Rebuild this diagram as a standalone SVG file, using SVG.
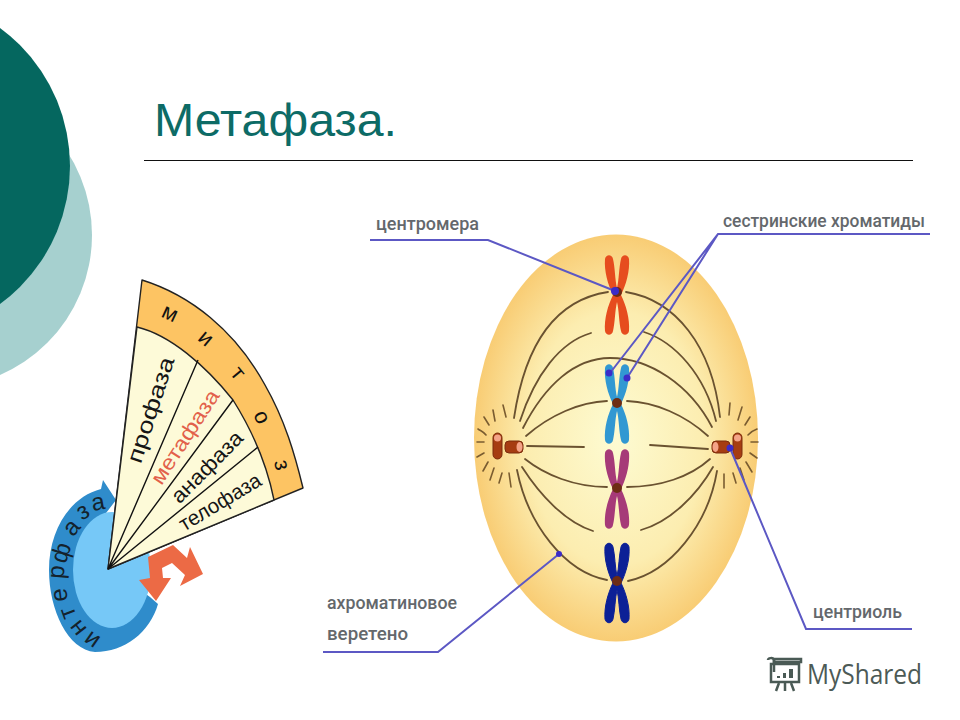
<svg xmlns="http://www.w3.org/2000/svg" width="960" height="720" viewBox="0 0 960 720">
<style>
text{font-family:"Liberation Sans",Arial,sans-serif}
.lab{font-family:Roboto,"Liberation Sans",sans-serif;font-size:19px;font-weight:500;fill:#64686c}
.ph{font-size:21px;fill:#151515;text-anchor:middle}
.mit{font-size:22px;fill:#111;text-anchor:middle}
.int{font-size:24px;fill:#14222c;text-anchor:middle}
.sp{fill:none;stroke:#6a5230;stroke-width:1.8;stroke-linecap:round}
.ray{fill:none;stroke:#7a5c30;stroke-width:1.6;stroke-linecap:round}
.lead{fill:none;stroke:#5c58c4;stroke-width:2}
.dot{fill:#3c2cc8}
.cen{fill:#6d2c14}
.cyl{fill:#a63d12;stroke:#7a2c0c;stroke-width:1}
.end{fill:#f4a488}
.div{stroke:#111;stroke-width:1.4;fill:none}
</style>
<defs>
<radialGradient id="cell" cx="50%" cy="50%" r="52%">
<stop offset="0" stop-color="#fdfbd2"/><stop offset=".6" stop-color="#fcedb0"/><stop offset="1" stop-color="#f8c96e"/>
</radialGradient>
<path id="x" d="M0,-7C2,-15 2,-28 4,-36C5,-41 11,-41 12,-36C13,-24 9,-10 4,0C9,10 13,24 12,36C11,41 5,41 4,36C2,28 2,15 0,7C-2,15 -2,28 -4,36C-5,41 -11,41 -12,36C-13,24 -9,10 -4,0C-9,-10 -13,-24 -12,-36C-11,-41 -5,-41 -4,-36C-2,-28 -2,-15 0,-7Z"/>
</defs>
<rect width="960" height="720" fill="#fff"/>
<g id="decor">
<circle cx="-60.500" cy="235" r="152.500" fill="#a6d0cf"/>
<circle cx="-101" cy="166" r="171" fill="#05675f"/>
</g>
<g id="title">
<text x="154" y="136" font-size="46" fill="#0d6b66" textLength="243" lengthAdjust="spacingAndGlyphs">Метафаза.</text>
<line x1="144" y1="160.500" x2="913" y2="160.500" stroke="#111" stroke-width="1"/>
</g>
<g id="interphase">
<path d="M103,480L116,500L103,517L112,570L150,597L158,604C150,632 125,652 95,652C68,650 49,610 49,570C49,530 70,497 101,489Z" fill="#2f8ccb"/>
<ellipse cx="112" cy="570" rx="39" ry="58" fill="#76c8f7"/>
<text class="int" transform="translate(92,640) rotate(-145) translate(0,7)">и</text>
<text class="int" transform="translate(78,628) rotate(-128) translate(0,7)">н</text>
<text class="int" transform="translate(68,613) rotate(-110) translate(0,7)">т</text>
<text class="int" transform="translate(60,595) rotate(-97) translate(0,7)">е</text>
<text class="int" transform="translate(57,572) rotate(-85) translate(0,7)">р</text>
<text class="int" transform="translate(62,553) rotate(-72) translate(0,7)">ф</text>
<text class="int" transform="translate(72,528) rotate(-50) translate(0,7)">а</text>
<text class="int" transform="translate(83,512) rotate(-30) translate(0,7)">з</text>
<text class="int" transform="translate(98,503) rotate(-10) translate(0,7)">а</text>
</g>
<g id="arrows">
<polygon points="148,557 173,545 187,558 190,547 203,574 180,586 185,575 172,563 162,568 163,578 171,578 156,601 139,580 150,578" fill="#ec6a45"/>
</g>
<g id="fan">
<path d="M108,569L142,280C190,295 235,330 265,385C285,420 295,455 303,488Z" fill="#fdc463" stroke="#222" stroke-width="1.4" stroke-linejoin="round"/>
<path d="M108,569L137,327C170,335 205,365 233,400C255,435 268,470 274,500Z" fill="#fdfad8" stroke="#222" stroke-width="1.4" stroke-linejoin="round"/>
<path class="div" d="M108,569L198,360M108,569L233,400M108,569L258,447"/>
<text class="mit" transform="translate(170,313) rotate(25) translate(0,7)">м</text>
<text class="mit" transform="translate(206,338) rotate(40) translate(0,7)">и</text>
<text class="mit" transform="translate(238,373) rotate(50) translate(0,7)">т</text>
<text class="mit" transform="translate(262,417) rotate(65) translate(0,7)">о</text>
<text class="mit" transform="translate(282,465) rotate(78) translate(0,7)">з</text>
<text class="ph" style="font-size:22px" transform="translate(151,410) rotate(-72) translate(0,7)" textLength="110" lengthAdjust="spacingAndGlyphs">профаза</text>
<text class="ph" style="fill:#e2604a" transform="translate(185,437) rotate(-57) translate(0,7)" textLength="108" lengthAdjust="spacingAndGlyphs">метафаза</text>
<text class="ph" transform="translate(207,467) rotate(-45) translate(0,7)" textLength="92" lengthAdjust="spacingAndGlyphs">анафаза</text>
<text class="ph" transform="translate(220,502) rotate(-31) translate(0,7)" textLength="92" lengthAdjust="spacingAndGlyphs">телофаза</text>
</g>
<g id="cell-body">
<ellipse cx="616" cy="438" rx="142" ry="203.500" fill="url(#cell)"/>
</g>
<g id="spindle">
<path class="sp" d="M514,418C525,345 555,300 608,292"/>
<path class="sp" d="M626,292C675,300 712,345 720,417"/>
<path class="sp" d="M520,421C535,375 560,342 591,333"/>
<path class="sp" d="M644,332C675,342 705,375 716,421"/>
<path class="sp" d="M523,428C545,385 575,358 610,358C650,358 690,385 712,427"/>
<path class="sp" d="M526,436C550,415 580,402 607,401"/>
<path class="sp" d="M627,401C655,402 685,415 708,436"/>
<path class="sp" d="M527,446L584,447"/>
<path class="sp" d="M650,445L708,449"/>
<path class="sp" d="M525,459C545,475 575,487 607,487"/>
<path class="sp" d="M627,487C660,487 690,477 710,459"/>
<path class="sp" d="M522,467C540,495 565,522 593,531"/>
<path class="sp" d="M641,530C670,522 697,495 713,467"/>
<path class="sp" d="M517,470C528,525 565,572 607,580"/>
<path class="sp" d="M628,581C670,572 708,525 717,471"/>
</g>
<g id="rays">
<path class="ray" d="M477,442H484M477,457L484,453M483,471L488,462M490,480L494,468M499,483L502,473M511,487L509,473M478,429C481,431 484,432 486,435M484,417L489,425M493,410L495,421M503,405L506,417"/>
<path class="ray" d="M751,442H758M750,453L757,458M746,462L752,472M740,468L744,480M733,473L736,483M724,474V488M757,429C754,430 751,432 748,435M750,417L745,425M742,407L738,420M730,403L729,415"/>
</g>
<g id="centriole-left">
<rect class="cyl" x="493" y="433" width="9" height="26" rx="4.500"/><ellipse class="end" cx="497.500" cy="438" rx="3.500" ry="3.500"/>
<rect class="cyl" x="505" y="441" width="18" height="12" rx="4"/><ellipse class="end" cx="519.500" cy="447" rx="3" ry="5"/>
</g>
<g id="centriole-right">
<rect class="cyl" x="712" y="441" width="18" height="12" rx="4"/><ellipse class="end" cx="715.500" cy="447" rx="3" ry="5"/>
<rect class="cyl" x="733" y="433" width="9" height="26" rx="4.500"/><ellipse class="end" cx="737.500" cy="438" rx="3.500" ry="3.500"/>
</g>
<g id="chromosome-red"><use href="#x" x="617" y="295" fill="#e64c1e"/><circle class="cen" cx="617" cy="292" r="5"/></g>
<g id="chromosome-blue"><use href="#x" x="617" y="404" fill="#3198d2"/><circle class="cen" cx="617" cy="403" r="5"/></g>
<g id="chromosome-purple"><use href="#x" x="617" y="489" fill="#a63a78"/><circle class="cen" cx="617" cy="488" r="5"/></g>
<g id="chromosome-navy"><use href="#x" x="617" y="583" fill="#0c2096" stroke="#0c2096" stroke-width="1"/><circle class="cen" cx="617" cy="581" r="5"/></g>
<g id="connectors">
<path class="lead" d="M370,240H488L615,291"/>
<path class="lead" d="M930,234H718L610,373M718,234L627,378"/>
<path class="lead" d="M730,448L806,629H912"/>
<path class="lead" d="M559,554L438,652H323"/>
<circle class="dot" cx="615" cy="291" r="4"/>
<circle class="dot" cx="609" cy="373" r="3.500"/>
<circle class="dot" cx="627" cy="378" r="3.500"/>
<circle class="dot" cx="730" cy="448" r="3.500"/>
<circle class="dot" cx="559" cy="554" r="3"/>
</g>
<g id="labels">
<text class="lab" x="376" y="230" textLength="103" lengthAdjust="spacingAndGlyphs">центромера</text>
<text class="lab" x="723" y="227" textLength="202" lengthAdjust="spacingAndGlyphs">сестринские хроматиды</text>
<text class="lab" x="327" y="609" textLength="130" lengthAdjust="spacingAndGlyphs">ахроматиновое</text>
<text class="lab" x="327" y="640" textLength="81" lengthAdjust="spacingAndGlyphs">веретено</text>
<text class="lab" x="813" y="618" textLength="89" lengthAdjust="spacingAndGlyphs">центриоль</text>
</g>
<g id="logo">
<path d="M774,659H801V662H774ZM771,664H799V682H771Z" fill="none" stroke="#4a5a55" stroke-width="2.500"/>
<path d="M768,660C768,658 773,657 774,660V672" fill="none" stroke="#4a5a55" stroke-width="2.500"/>
<rect x="777" y="676" width="3" height="2" fill="#4a5a55"/><rect x="783" y="673" width="3" height="5" fill="#4a5a55"/><rect x="789" y="669" width="4" height="9" fill="#4a5a55"/>
<path d="M779,683L776,691M785,683V691M791,683L794,691" fill="none" stroke="#4a5a55" stroke-width="2.500"/>
<text x="807" y="684" font-size="28" fill="#4c5a56" style="font-family:'Open Sans',sans-serif" textLength="115" lengthAdjust="spacingAndGlyphs">MyShared</text>
</g>
</svg>
